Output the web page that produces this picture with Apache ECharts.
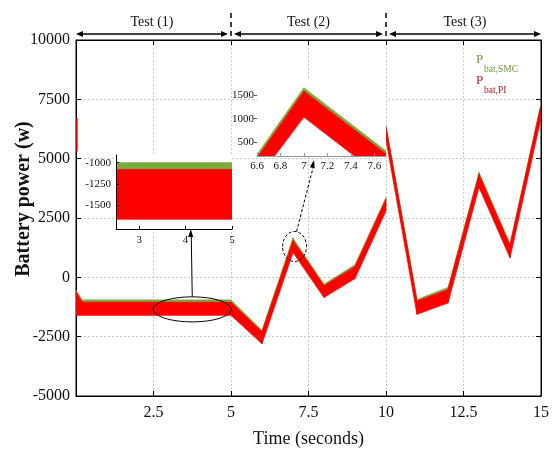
<!DOCTYPE html>
<html><head><meta charset="utf-8">
<script src="https://cdn.jsdelivr.net/npm/echarts@6/dist/echarts.min.js"></script>
<style>html,body{margin:0;padding:0;background:#fff}#c{width:558px;height:459px}</style>
</head><body><div id="c"></div>
<script>
// ---- main chart: tests (1) and (2) ----
const timeA    = [0, 0.2, 5, 6, 7, 8, 9, 10];
const piLowA   = [-1600, -1600, -1600, -2800, 1050, -850, -50, 2800];
const piHighA  = [-600, -1050, -1050, -2300, 1550, -350, 450, 3300];
const smcHighA = [-550, -950, -950, -2230, 1660, -290, 530, 3360];
// ---- main chart: test (3) ----
const timeB    = [10, 11, 12, 13, 14, 15];
const piLowB   = [5800, -1560, -1080, 3800, 820, 6700];
const piHighB  = [6330, -1000, -520, 4330, 1350, 7250];
const smcHighB = [6380, -930, -430, 4420, 1420, 7320];
// start-up transient
const spikeTime  = [0.03, 0.03];
const spikeValue = [5300, 6700];
// ---- zoom inset (1): t = 2.5 .. 5 ----
const z1Time    = [2.5, 5];
const z1PiLow   = [-1660, -1660];
const z1PiHigh  = [-1080, -1080];
const z1SmcHigh = [-1000, -1000];
// ---- zoom inset (2): around t = 7 ----
const z2Time    = [6.5, 7.0, 7.8];
const z2PiLow   = [-635, 1035, -517];
const z2PiHigh  = [-200, 1590, 50];
const z2SmcHigh = [-127, 1660, 116];
// ---- ticks / labels ----
const xTicks = [2.5, 5, 7.5, 10, 12.5, 15];
const yTicks = [-5000, -2500, 0, 2500, 5000, 7500, 10000];
const z1XTicks = [3, 4, 5];
const z1YTicks = [-1500, -1250, -1000];
const z2XTicks = [6.6, 6.8, 7, 7.2, 7.4, 7.6];
const z2YTicks = [500, 1000, 1500];
const testNames  = ['Test (1)', 'Test (2)', 'Test (3)'];
const testBounds = [0, 5, 10, 15];

const RED = '#ff0000', GREEN = '#7aab3c';
const FONT = 'Liberation Serif';

// filled band between two bounding curves, drawn segment by segment through the axes
function bandSeries(t, lo, hi, color, ax, z) {
  const data = [];
  for (let i = 0; i < t.length - 1; i++) data.push([t[i], t[i + 1], lo[i], lo[i + 1], hi[i], hi[i + 1]]);
  return {
    type: 'custom', xAxisIndex: ax, yAxisIndex: ax, z: z, silent: true, animation: false,
    encode: {x: [0, 1], y: [2, 3, 4, 5]},
    renderItem: (params, api) => {
      const pts = [
        api.coord([api.value(0), api.value(2)]),
        api.coord([api.value(1), api.value(3)]),
        api.coord([api.value(1), api.value(5)]),
        api.coord([api.value(0), api.value(4)])
      ];
      const cs = params.coordSys;
      return {type: 'polygon', shape: {points: pts},
        style: {fill: color, stroke: color, lineWidth: 0.8},
        clipPath: {type: 'rect', shape: {x: cs.x, y: cs.y, width: cs.width, height: cs.height}}};
    },
    data: data
  };
}
function band(t, low, high, top, ax, z) {
  return [bandSeries(t, high, top, GREEN, ax, z), bandSeries(t, low, high, RED, ax, z + 0.1)];
}

const lbl = (size) => ({fontFamily: FONT, fontSize: size, color: '#111'});
const dotted = {show: true, lineStyle: {color: '#c8c8c8', type: [2, 2], width: 1}};

const chart = echarts.init(document.getElementById('c'), null, {renderer: 'canvas'});
const option = {
  animation: false,
  backgroundColor: '#fff',
  grid: [
    {left: 76, top: 40, width: 465, height: 356, show: true, borderColor: '#000', borderWidth: 1, z: 0, outerBoundsMode: 'none', containLabel: false},
    {left: 116, top: 155, width: 116, height: 74, show: true, backgroundColor: '#fff', borderWidth: 0, z: 3, outerBoundsMode: 'none', containLabel: false},
    {left: 257, top: 79, width: 129, height: 77, show: true, backgroundColor: '#fff', borderWidth: 0, z: 3, outerBoundsMode: 'none', containLabel: false}
  ],
  xAxis: [
    {type: 'value', gridIndex: 0, min: 0, max: 15, interval: 2.5, position: 'bottom',
     axisLine: {onZero: false, lineStyle: {color: '#000'}}, axisTick: {inside: true, length: 5, lineStyle: {color: '#000'}},
     axisLabel: Object.assign(lbl(16), {margin: 9, customValues: xTicks, formatter: v => String(v)}),
     splitLine: dotted,
     name: 'Time (seconds)', nameLocation: 'middle', nameGap: 34,
     nameTextStyle: {fontFamily: FONT, fontSize: 18, color: '#111'}},
    {type: 'value', gridIndex: 1, min: 2.5, max: 5, z: 5,
     axisLine: {onZero: false, lineStyle: {color: '#000'}}, axisTick: {show: true, inside: true, length: 3, customValues: z1XTicks},
     axisLabel: Object.assign(lbl(11), {margin: 6, customValues: z1XTicks}),
     splitLine: {show: false}},
    {type: 'value', gridIndex: 2, min: 6.6, max: 7.7, z: 5,
     axisLine: {onZero: false, lineStyle: {color: '#999'}}, axisTick: {show: true, inside: true, length: 3, customValues: z2XTicks},
     axisLabel: Object.assign(lbl(11), {margin: 5, customValues: z2XTicks, formatter: v => String(+v.toFixed(1))}),
     splitLine: {show: false}},
    {type: 'value', gridIndex: 0, min: 0, max: 15, interval: 2.5, position: 'top',
     axisLine: {onZero: false, lineStyle: {color: '#000'}}, axisTick: {inside: true, length: 5, lineStyle: {color: '#000'}},
     axisLabel: {show: false}, splitLine: {show: false}}
  ],
  yAxis: [
    {type: 'value', gridIndex: 0, min: -5000, max: 10000, interval: 2500, position: 'left',
     axisLine: {show: true, onZero: false, lineStyle: {color: '#000'}}, axisTick: {show: true, inside: true, length: 5, lineStyle: {color: '#000'}},
     axisLabel: Object.assign(lbl(16), {margin: 6, customValues: yTicks, formatter: v => String(v)}),
     splitLine: dotted},
    {type: 'value', gridIndex: 1, min: -1775, max: -910, z: 5,
     axisLine: {show: true, onZero: false, lineStyle: {color: '#000'}}, axisTick: {show: true, inside: true, length: 3, customValues: z1YTicks},
     axisLabel: Object.assign(lbl(11), {margin: 5, customValues: z1YTicks, formatter: v => String(v)}),
     splitLine: {show: false}},
    {type: 'value', gridIndex: 2, min: 200, max: 1850, z: 5,
     axisLine: {show: false, onZero: false}, axisTick: {show: true, inside: false, length: 3, customValues: z2YTicks},
     axisLabel: Object.assign(lbl(11), {margin: 3, customValues: z2YTicks, formatter: v => String(v)}),
     splitLine: {show: false}},
    {type: 'value', gridIndex: 0, min: -5000, max: 10000, interval: 2500, position: 'right',
     axisLine: {show: true, onZero: false, lineStyle: {color: '#000'}}, axisTick: {show: true, inside: true, length: 5, lineStyle: {color: '#000'}},
     axisLabel: {show: false}, splitLine: {show: false}}
  ],
  series: [].concat(
    band(timeA, piLowA, piHighA, smcHighA, 0, 2),
    band(timeB, piLowB, piHighB, smcHighB, 0, 2),
    [{type: 'line', symbol: 'none', silent: true, xAxisIndex: 0, yAxisIndex: 0, z: 2,
      data: spikeTime.map((x, i) => [x, spikeValue[i]]), lineStyle: {color: RED, width: 1.5}}],
    band(z1Time, z1PiLow, z1PiHigh, z1SmcHigh, 1, 4),
    band(z2Time, z2PiLow, z2PiHigh, z2SmcHigh, 2, 4)
  )
};
chart.setOption(option);

// ---- annotations positioned through the chart's own scales ----
const px = (x, y) => chart.convertToPixel({gridIndex: 0}, [x, y]);
function arrowHead(tip, dx, dy, len, half, color) {
  const n = Math.hypot(dx, dy); const ux = dx / n, uy = dy / n;
  const bx = tip[0] - ux * len, by = tip[1] - uy * len;
  return {type: 'polygon', z: 20, silent: true,
    shape: {points: [tip, [bx - uy * half, by + ux * half], [bx + uy * half, by - ux * half]]},
    style: {fill: color}};
}
const g = [];
// y-axis title
g.push({type: 'text', z: 20, silent: true, x: 24, y: 199, rotation: Math.PI / 2,
  style: {text: 'Battery power (w)', fontFamily: FONT, fontSize: 20, fontWeight: 'bold', fill: '#111',
    align: 'center', verticalAlign: 'middle'}});
const arrowY = 34;
for (let i = 0; i < 3; i++) {
  const x0 = px(testBounds[i], 0)[0] + (i === 0 ? 0 : 3);
  const x1 = px(testBounds[i + 1], 0)[0] - (i === 2 ? 0 : 3);
  g.push({type: 'line', z: 20, silent: true, shape: {x1: x0 + 4, y1: arrowY, x2: x1 - 4, y2: arrowY},
    style: {stroke: '#000', lineWidth: 1.6}});
  g.push(arrowHead([x0, arrowY], -1, 0, 7, 3, '#000'));
  g.push(arrowHead([x1, arrowY], 1, 0, 7, 3, '#000'));
  g.push({type: 'text', z: 20, silent: true, x: (x0 + x1) / 2, y: 22,
    style: {text: testNames[i], fontFamily: FONT, fontSize: 14, fill: '#111', align: 'center', verticalAlign: 'middle'}});
}
[5, 10].forEach(t => {
  const x = px(t, 0)[0];
  g.push({type: 'line', z: 20, silent: true, shape: {x1: x, y1: 13, x2: x, y2: 40},
    style: {stroke: '#000', lineWidth: 1.5, lineDash: [5, 4]}});
});
// ellipse around test (1) steady state
const e = px(3.75, -1350);
g.push({type: 'ellipse', z: 20, silent: true, shape: {cx: e[0], cy: e[1], rx: 39, ry: 12.5},
  style: {fill: 'none', stroke: '#000', lineWidth: 1}});
g.push({type: 'line', z: 20, silent: true, shape: {x1: e[0], y1: e[1] - 12.5, x2: e[0] - 1, y2: 236},
  style: {stroke: '#000', lineWidth: 1}});
g.push(arrowHead([e[0] - 1.5, 229], 0, -1, 8, 2.5, '#000'));
// dashed circle around the t=7 peak
const c = px(7.05, 1300);
g.push({type: 'ellipse', z: 20, silent: true, shape: {cx: c[0], cy: c[1], rx: 12, ry: 15},
  style: {fill: 'none', stroke: '#000', lineWidth: 1, lineDash: [3, 2]}});
g.push({type: 'line', z: 20, silent: true, shape: {x1: c[0] + 2, y1: c[1] - 15, x2: 313, y2: 168},
  style: {stroke: '#000', lineWidth: 1, lineDash: [3, 2]}});
g.push(arrowHead([314, 160], 0.22, -1, 8, 2.5, '#000'));
// legend
g.push({type: 'text', z: 20, silent: true, x: 476, y: 53,
  style: {text: 'P', fontFamily: FONT, fontSize: 13, fill: '#6f9a3a'}});
g.push({type: 'text', z: 20, silent: true, x: 484, y: 64,
  style: {text: 'bat,SMC', fontFamily: FONT, fontSize: 9.5, fill: '#6f9a3a'}});
g.push({type: 'text', z: 20, silent: true, x: 476, y: 74,
  style: {text: 'P', fontFamily: FONT, fontSize: 13, fill: '#b22222'}});
g.push({type: 'text', z: 20, silent: true, x: 484, y: 85,
  style: {text: 'bat,PI', fontFamily: FONT, fontSize: 9.5, fill: '#b22222'}});
chart.setOption({graphic: {elements: g}});
</script>
</body></html>
